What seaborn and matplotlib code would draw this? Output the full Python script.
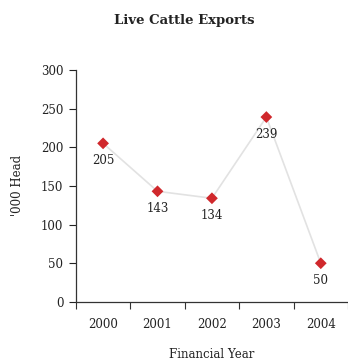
import matplotlib
matplotlib.use("Agg")
import matplotlib.pyplot as plt
import seaborn as sns
import pandas as pd

years = ["2000", "2001", "2002", "2003", "2004"]
values = [205, 143, 134, 239, 50]

sns.set_theme(style="ticks")
plt.rcParams['font.family'] = ['DejaVu Serif']

df = pd.DataFrame({"year": years, "value": values, "pos": range(len(years))})

fig = plt.figure(figsize=(3.48, 3.62), dpi=100)
ax = fig.add_axes([0.218, 0.166, 0.782, 0.641])

sns.lineplot(data=df, x="pos", y="value", ax=ax, color="#e2e2e2", linewidth=1.2)
sns.scatterplot(data=df, x="pos", y="value", ax=ax, marker="D", color="#d0282c",
                s=36, edgecolor="none", zorder=3)

for p, v in zip(df["pos"], df["value"]):
    ax.annotate(str(v), (p, v), xytext=(0, -8), textcoords="offset points",
                ha="center", va="top", fontsize=8.5, color="#222222")

ax.set_xlim(-0.5, 4.5)
ax.set_ylim(0, 300)
ax.set_yticks(range(0, 301, 50))
ax.set_xticks(range(len(years)))
ax.set_xticklabels(years)
ax.set_xticks([i - 0.5 for i in range(len(years) + 1)], minor=True)
ax.tick_params(axis="x", which="major", length=0, pad=11.5, labelsize=8.5, colors="#222222")
ax.tick_params(axis="x", which="minor", length=5, width=0.8, color="#333333")
ax.tick_params(axis="y", length=5, width=0.8, labelsize=8.5, colors="#222222", pad=4)
for s in ["top", "right"]:
    ax.spines[s].set_visible(False)
for s in ["left", "bottom"]:
    ax.spines[s].set_linewidth(0.9)
    ax.spines[s].set_color("#333333")

ax.set_xlabel("Financial Year", fontsize=8.5, labelpad=12, color="#222222")
ax.set_ylabel("'000 Head", fontsize=8.5, labelpad=12, color="#222222")
fig.suptitle("Live Cattle Exports", fontsize=9.5, fontweight="bold", y=0.962, x=0.53, color="#222222")

fig.savefig("out.png", dpi=100, facecolor="white")
